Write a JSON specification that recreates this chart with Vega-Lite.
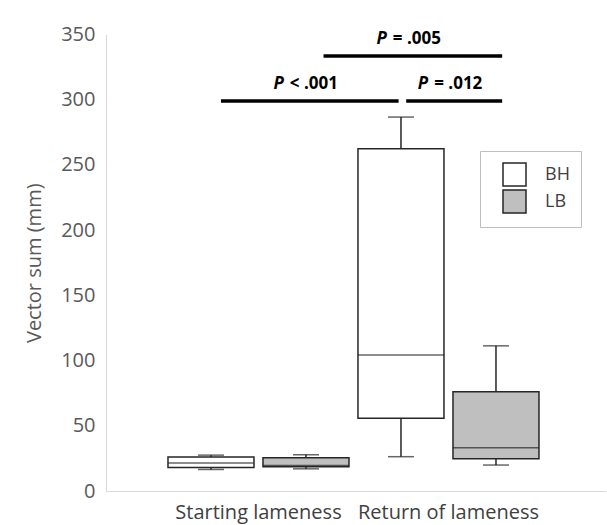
{
  "$schema": "https://vega.github.io/schema/vega-lite/v6.json",
  "width": 500,
  "height": 456.5,
  "autosize": "none",
  "padding": {"left": 106, "top": 34.5, "right": 1, "bottom": 34},
  "background": "white",
  "config": {"view": {"stroke": null}, "font": "Open Sans"},
  "datasets": {
    "boxes": [
      {"group": "Starting lameness", "series": "BH", "low": 16.5, "q1": 18, "median": 21.5, "q3": 26, "high": 27.5},
      {"group": "Starting lameness", "series": "LB", "low": 17, "q1": 18.5, "median": 19.5, "q3": 25.5, "high": 27.8},
      {"group": "Return of lameness", "series": "BH", "low": 26.3, "q1": 55.7, "median": 104.2, "q3": 262.5, "high": 286.7},
      {"group": "Return of lameness", "series": "LB", "low": 19.9, "q1": 24.7, "median": 33.2, "q3": 76, "high": 111.3}
    ],
    "tests": [
      {"p": "P", "rest": "< .001", "from": 1.11, "to": 2.98, "level": 299},
      {"p": "P", "rest": "= .012", "from": 3.06, "to": 4.07, "level": 299},
      {"p": "P", "rest": "= .005", "from": 2.19, "to": 4.07, "level": 333.5}
    ]
  },
  "layer": [
    {
      "data": {"name": "boxes"},
      "encoding": {
        "x": {
          "field": "group", "type": "nominal", "title": null, "sort": null,
          "scale": {"domain": ["Starting lameness", "Return of lameness"], "paddingInner": 0, "paddingOuter": 0.3158, "align": 0.479},
          "axis": {"ticks": false, "domainColor": "#d9d9d9", "domainWidth": 1, "labelFont": "Open Sans", "labelFontSize": 20, "labelColor": "#404040", "labelPadding": 11, "labelAngle": 0, "labelLimit": 0}
        },
        "xOffset": {"field": "series", "type": "nominal", "scale": {"domain": ["BH", "LB"], "paddingInner": 0, "paddingOuter": 0}}
      },
      "layer": [
        {
          "mark": {"type": "rule", "stroke": "#262626", "strokeWidth": 1.5},
          "encoding": {
            "y": {"field": "low", "type": "quantitative", "title": "Vector sum (mm)",
              "scale": {"domain": [0, 350], "nice": false},
              "axis": {"values": [0, 50, 100, 150, 200, 250, 300, 350], "ticks": false, "grid": false, "domainColor": "#d9d9d9", "domainWidth": 1, "labelFont": "Open Sans", "labelFontSize": 20, "labelColor": "#595959", "labelPadding": 11, "titleFont": "Open Sans", "titleFontSize": 20, "titleFontWeight": "normal", "titleColor": "#595959", "titleX": -72, "titleY": 228.25, "titleAngle": -90, "titleAlign": "center", "titleBaseline": "middle"}},
            "y2": {"field": "q1"}
          }
        },
        {
          "mark": {"type": "rule", "stroke": "#262626", "strokeWidth": 1.5},
          "encoding": {
            "y": {"field": "q3", "type": "quantitative", "title": "Vector sum (mm)"},
            "y2": {"field": "high"}
          }
        },
        {
          "mark": {"type": "bar", "size": 86, "stroke": "#262626", "strokeWidth": 1.5},
          "encoding": {
            "y": {"field": "q1", "type": "quantitative", "title": "Vector sum (mm)"},
            "y2": {"field": "q3"},
            "fill": {"field": "series", "type": "nominal",
              "scale": {"domain": ["BH", "LB"], "range": ["#ffffff", "#bfbfbf"]},
              "legend": {"title": null, "orient": "none", "legendX": 374, "legendY": 116.5, "symbolType": "square", "symbolSize": 529, "symbolStrokeColor": "#262626", "symbolStrokeWidth": 1.5, "labelFont": "Open Sans", "labelFontSize": 18, "labelColor": "#404040", "labelOffset": 18, "rowPadding": -5, "padding": 11, "symbolOffset": 11, "strokeColor": "#bfbfbf", "fillColor": "white"}}
          }
        },
        {
          "mark": {"type": "tick", "size": 86, "thickness": 1.5, "color": "#262626"},
          "encoding": {"y": {"field": "median", "type": "quantitative", "title": "Vector sum (mm)"}}
        },
        {
          "mark": {"type": "tick", "size": 26, "thickness": 1.5, "color": "#262626"},
          "encoding": {"y": {"field": "low", "type": "quantitative", "title": "Vector sum (mm)"}}
        },
        {
          "mark": {"type": "tick", "size": 26, "thickness": 1.5, "color": "#262626"},
          "encoding": {"y": {"field": "high", "type": "quantitative", "title": "Vector sum (mm)"}}
        }
      ]
    },
    {
      "data": {"name": "tests"},
      "transform": [{"calculate": "(datum.from + datum.to) / 2", "as": "mid"}],
      "layer": [
        {
          "mark": {"type": "rule", "strokeWidth": 3.5, "color": "black"},
          "encoding": {
            "x": {"field": "from", "type": "quantitative", "scale": {"domain": [-0.1, 5.163], "nice": false, "zero": false}, "axis": null},
            "x2": {"field": "to"},
            "y": {"field": "level", "type": "quantitative", "title": "Vector sum (mm)"}
          }
        },
        {
          "mark": {"type": "text", "font": "Open Sans", "fontSize": 17, "fontWeight": "bold", "fontStyle": "italic", "align": "right", "baseline": "middle", "dx": -26, "dy": -17.5, "color": "black"},
          "encoding": {
            "x": {"field": "mid", "type": "quantitative", "scale": {"domain": [-0.1, 5.163], "nice": false, "zero": false}, "axis": null},
            "y": {"field": "level", "type": "quantitative", "title": "Vector sum (mm)"},
            "text": {"field": "p"}
          }
        },
        {
          "mark": {"type": "text", "font": "Open Sans", "fontSize": 17, "fontWeight": "bold", "align": "left", "baseline": "middle", "dx": -20, "dy": -17.5, "color": "black"},
          "encoding": {
            "x": {"field": "mid", "type": "quantitative", "scale": {"domain": [-0.1, 5.163], "nice": false, "zero": false}, "axis": null},
            "y": {"field": "level", "type": "quantitative", "title": "Vector sum (mm)"},
            "text": {"field": "rest"}
          }
        }
      ]
    }
  ],
  "resolve": {"scale": {"x": "independent"}}
}
